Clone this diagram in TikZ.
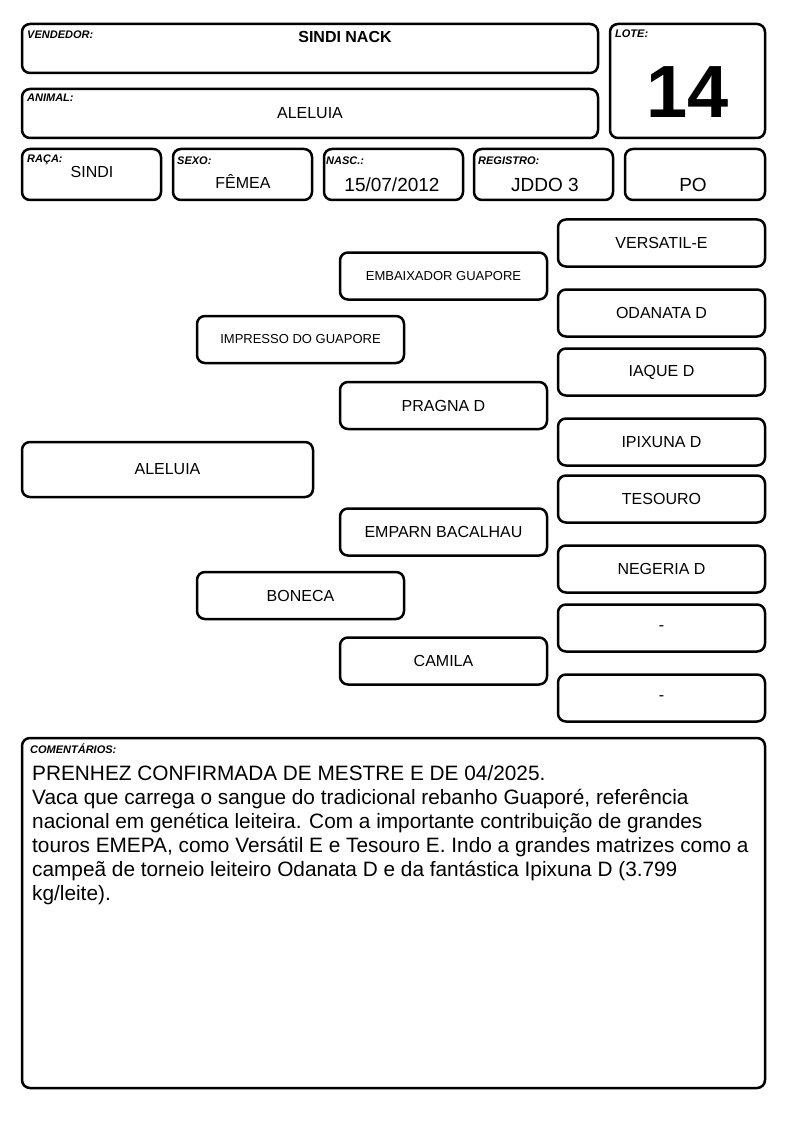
\documentclass[tikz,border=0pt]{standalone}
\usepackage{fontspec}
\setmainfont{Liberation Sans}
\usepackage{tikz}
\usetikzlibrary{positioning}
\usepackage{color}
\definecolor{inkblack}{RGB}{0, 0, 0}

\begin{document}
\begin{tikzpicture}[x=1pt, y=-1pt,
        cell/.style={draw=inkblack, line width=2.5pt, rounded corners=8pt, inner sep=0pt, align=center},
        tag/.style={anchor=base west, inner sep=0pt, font=\fontsize{11}{13}\selectfont\bfseries\itshape},
        value/.style={anchor=base, inner sep=0pt, font=\fontsize{16}{19}\selectfont},
        bigvalue/.style={anchor=base, inner sep=0pt, font=\fontsize{19}{22}\selectfont},
        pedfont/.style={font=\fontsize{16}{19}\selectfont},
        smallped/.style={font=\fontsize{13}{16}\selectfont},
        wide/.style={cell, minimum width=576pt, minimum height=49pt},
        small/.style={cell, minimum width=139pt, minimum height=51pt},
        pedbox/.style={cell, minimum width=207pt, minimum height=47pt}]
            % Page frame
            \useasboundingbox (0, 0) rectangle (794, 1123);
            % Header
            \node[wide] (vendedor) at (310.0,  48.5) {};
            \node[wide] (animal)   at (310.0, 113.5) {};
            \node[cell, minimum width=155pt, minimum height=114pt] (lote) at (687.5, 81.0) {};
            \node[small] (raca)     at ( 91.5, 174.5) {};
            \node[small] (sexo)     at (242.5, 174.5) {};
            \node[small] (nasc)     at (393.5, 174.5) {};
            \node[small] (registro) at (543.5, 174.5) {};
            \node[cell, minimum width=140pt, minimum height=51pt] (po) at (695.0, 174.5) {};
            % Header tags
            \node[tag] (vendedortag) at ( 27,  39) {VENDEDOR:};
            \node[tag] (animaltag)   at ( 27, 102) {ANIMAL:};
            \node[tag] (lotetag)     at (615,  38) {LOTE:};
            \node[tag] (racatag)     at ( 27, 163) {RAÇA:};
            \node[tag] (sexotag)     at (177, 165) {SEXO:};
            \node[tag] (nasctag)     at (326, 165) {NASC.:};
            \node[tag] (registrotag) at (478, 165) {REGISTRO:};
            % Header values
            \node[value, font=\fontsize{16}{19}\selectfont\bfseries] (vendedorval) at (345, 43) {SINDI NACK};
            \node[value] (animalval) at (310, 119) {ALELUIA};
            \node[anchor=base, inner sep=0pt, font=\fontsize{74}{80}\selectfont\bfseries] (loteval) at (688, 117.5) {14};
            \node[value] (racaval) at ( 92, 178) {SINDI};
            \node[value] (sexoval) at (243, 189) {FÊMEA};
            \node[bigvalue] (nascval)     at (392, 192) {15/07/2012};
            \node[bigvalue] (registroval) at (545, 192) {JDDO 3};
            \node[bigvalue] (poval)       at (693, 192) {PO};
            % Pedigree: animal, parents, grandparents
            \node[cell, pedfont, minimum width=291pt, minimum height=55pt] (aleluia) at (167.5, 469.5) {ALELUIA};
            \node[pedbox, smallped] (pai) at (300.5, 339.5) {IMPRESSO DO GUAPORE};
            \node[pedbox, pedfont]  (mae) at (300.5, 595.5) {BONECA};
            \node[pedbox, smallped] (avopp) at (443.5, 276.0) {EMBAIXADOR GUAPORE};
            \node[pedbox, pedfont]  (avopm) at (443.5, 405.5) {PRAGNA D};
            \node[pedbox, pedfont]  (avomp) at (443.5, 532.0) {EMPARN BACALHAU};
            \node[pedbox, pedfont]  (avomm) at (443.5, 661.0) {CAMILA};
            % Great-grandparents
            \node[pedbox, pedfont] (bis1) at (661.5, 243) {VERSATIL-E};
            \node[pedbox, pedfont] (bis2) at (661.5, 313) {ODANATA D};
            \node[pedbox, pedfont] (bis3) at (661.5, 372) {IAQUE D};
            \node[pedbox, pedfont] (bis4) at (661.5, 442) {IPIXUNA D};
            \node[pedbox, pedfont] (bis5) at (661.5, 499) {TESOURO};
            \node[pedbox, pedfont] (bis6) at (661.5, 569) {NEGERIA D};
            \node[pedbox, pedfont] (bis7) at (661.5, 628) {-};
            \node[pedbox, pedfont] (bis8) at (661.5, 698) {-};
            % Comments
            \node[cell, minimum width=743pt, minimum height=350pt] (comentarios) at (393.5, 913) {};
            \node[tag] (comentariostag) at (30, 753) {COMENTÁRIOS:};
            \node[anchor=north west, inner sep=0pt, align=left, font=\fontsize{20.8}{24}\selectfont] (comentariostxt) at (32, 765.5)
                 {PRENHEZ CONFIRMADA DE MESTRE E DE 04/2025.\\
                  Vaca que carrega o sangue do tradicional rebanho Guaporé, referência\\
                  nacional em genética leiteira. Com a importante contribuição de grandes\\
                  touros EMEPA, como Versátil E e Tesouro E. Indo a grandes matrizes como a\\
                  campeã de torneio leiteiro Odanata D e da fantástica Ipixuna D (3.799\\
                  kg/leite).};
        \end{tikzpicture}
\end{document}
